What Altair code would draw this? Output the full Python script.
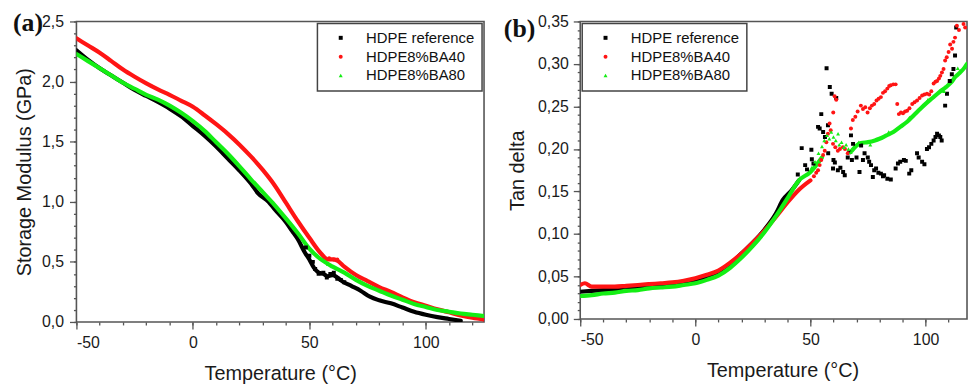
import altair as alt
import pandas as pd

SERIES = ["HDPE reference", "HDPE8%BA40", "HDPE8%BA80"]
COLORS = ["#000000", "#ff1414", "#14ee14"]
SHAPES = ["square", "circle", "triangle-up"]
TAGS = ["(a)", "(b)"]

# ---------------- panel (a): storage modulus (GPa) ----------------
a_ref_t = [-50, -45, -40, -35, -30, -25, -20, -15, -10, -5, 0, 5, 10, 15, 20, 25, 28, 32.5, 35, 40,
           42.5, 45, 48, 50, 52, 54, 56, 58, 60, 62, 64, 68, 72, 76, 80, 85, 90, 95, 100, 105, 110, 115]
a_ref_v = [2.26, 2.18, 2.11, 2.05, 1.99, 1.93, 1.88, 1.83, 1.775, 1.71, 1.63, 1.55, 1.46, 1.36, 1.26, 1.15, 1.07, 1.00, 0.94, 0.83,
           0.76, 0.69, 0.58, 0.52, 0.45, 0.41, 0.40, 0.38, 0.39, 0.37, 0.34, 0.30, 0.26, 0.21, 0.18, 0.155, 0.12, 0.085, 0.06, 0.04, 0.025, 0.01]

a_ba40_t = [-50, -45, -40, -35, -30, -25, -20, -15, -10, -5, 0, 5, 10, 15, 20, 25, 30, 35, 40, 45, 50,
            55, 58, 60, 62, 65, 70, 75, 80, 85, 90, 95, 100, 105, 110, 115, 120, 125]
a_ba40_v = [2.36, 2.30, 2.24, 2.17, 2.10, 2.04, 1.985, 1.935, 1.89, 1.84, 1.79, 1.72, 1.645, 1.565, 1.475, 1.375, 1.265, 1.14, 0.99, 0.84, 0.70,
            0.57, 0.52, 0.52, 0.51, 0.46, 0.39, 0.34, 0.29, 0.25, 0.205, 0.165, 0.135, 0.105, 0.08, 0.055, 0.035, 0.02]

a_ba80_t = [-50, -45, -40, -35, -30, -25, -20, -15, -10, -5, 0, 5, 10, 15, 20, 25, 30, 35, 40, 45, 50,
            55, 60, 65, 70, 75, 80, 85, 90, 95, 100, 105, 110, 115, 120, 125]
a_ba80_v = [2.23, 2.17, 2.11, 2.05, 1.99, 1.94, 1.89, 1.85, 1.80, 1.74, 1.67, 1.59, 1.495, 1.40, 1.295, 1.185, 1.08, 0.975, 0.86, 0.74, 0.61,
            0.52, 0.46, 0.41, 0.35, 0.30, 0.26, 0.22, 0.185, 0.15, 0.125, 0.10, 0.085, 0.07, 0.06, 0.05]

# scattered markers in panel (a)
a_pts_ref_t = [48.5, 50, 51.5, 52.5, 54, 56, 57.5, 59, 60.5, 62, 63.5, 65]
a_pts_ref_v = [0.62, 0.55, 0.50, 0.44, 0.40, 0.41, 0.37, 0.40, 0.41, 0.36, 0.35, 0.33]
a_pts_ba40_t = [58.5, 60.5, 62]
a_pts_ba40_v = [0.53, 0.52, 0.52]
a_pts_ba80_t = [58, 62]
a_pts_ba80_v = [0.48, 0.44]

# ---------------- panel (b): tan delta ----------------
b_ref_t = [-50, -45, -40, -35, -30, -25, -20, -15, -10, -5, 0, 5, 10, 15, 20, 25, 30, 35, 38, 42, 45]
b_ref_v = [0.032, 0.033, 0.034, 0.035, 0.036, 0.037, 0.038, 0.039, 0.040, 0.042, 0.045, 0.049, 0.055, 0.064,
           0.077, 0.090, 0.105, 0.124, 0.140, 0.152, 0.163]

b_ba40_t = [-50, -48, -45, -40, -35, -30, -25, -20, -15, -10, -5, 0, 5, 10, 15, 20, 25, 30, 35, 40, 45, 50]
b_ba40_v = [0.040, 0.042, 0.038, 0.038, 0.038, 0.039, 0.040, 0.041, 0.042, 0.043, 0.045, 0.048, 0.052, 0.057,
            0.066, 0.077, 0.090, 0.104, 0.120, 0.137, 0.152, 0.163]

b_ba80_t = [-50, -45, -40, -35, -30, -25, -20, -15, -10, -5, 0, 5, 10, 15, 20, 25, 30, 35, 40, 45, 50, 55]
b_ba80_v = [0.027, 0.028, 0.030, 0.031, 0.033, 0.034, 0.036, 0.037, 0.038, 0.040, 0.042, 0.046, 0.051, 0.060,
            0.072, 0.086, 0.102, 0.121, 0.142, 0.163, 0.173, 0.190]
b_ba80_hi_t = [68, 70, 72, 75, 78, 80, 83, 86, 89, 92, 95, 98, 100, 103, 106, 109, 111, 113, 115, 117, 118]
b_ba80_hi_v = [0.198, 0.204, 0.207, 0.208, 0.210, 0.212, 0.216, 0.220, 0.226, 0.232, 0.240, 0.248, 0.253,
               0.260, 0.267, 0.273, 0.278, 0.285, 0.290, 0.296, 0.300]

b_pts_ref_t = [44.5, 46.2, 47.7, 48.5, 50.4, 50.6, 51.3, 53.3, 54.0, 54.7, 55.5, 56.3, 57.0, 57.6, 57.7, 58.4,
               59.2, 59.8, 60.0, 60.6, 61.2, 61.9, 63.0, 64.2, 64.9, 66.2, 66.8, 67.6, 68.5, 68.0, 70.0, 71.3,
               72.0, 72.8, 73.5, 74.9, 75.5, 76.3, 77.1, 77.7, 78.5, 79.5, 80.6, 81.5, 82.0, 83.4, 84.9, 87.0,
               88.0, 89.0, 90.6, 91.4, 92.9, 93.8, 96.3, 97.0, 98.5, 99.5, 100.6, 101.5, 102.5, 103.5, 104.3,
               105.0, 105.8, 106.4, 107.0, 108.5, 109.3, 110.5, 111.4, 112.1, 112.8, 113.3]
b_pts_ref_v = [0.170, 0.201, 0.181, 0.176, 0.199, 0.188, 0.183, 0.226, 0.224, 0.241, 0.220, 0.214, 0.295, 0.228,
               0.195, 0.273, 0.265, 0.177, 0.187, 0.184, 0.260, 0.175, 0.178, 0.173, 0.169, 0.190, 0.196, 0.216,
               0.206, 0.187, 0.190, 0.173, 0.204, 0.187, 0.195, 0.190, 0.185, 0.181, 0.167, 0.175, 0.177, 0.172,
               0.171, 0.168, 0.169, 0.165, 0.164, 0.177, 0.183, 0.185, 0.187, 0.186, 0.171, 0.175, 0.195, 0.190,
               0.185, 0.182, 0.200, 0.202, 0.206, 0.210, 0.214, 0.218, 0.216, 0.214, 0.210, 0.251, 0.265, 0.280,
               0.288, 0.294, 0.310, 0.343]

b_pts_ba40_t = [51.5, 52.5, 53.3, 54.0, 54.7, 55.5, 56.2, 56.9, 57.6, 58.3, 58.8, 59.9, 60.5, 61.2, 59.8, 60.8,
                61.9, 62.8, 64.1, 65.0, 66.2, 67.6, 68.4, 69.5, 70.5, 71.9, 72.8, 73.8, 74.8, 75.8, 76.7, 77.7,
                78.7, 79.6, 80.6, 81.5, 82.4, 83.4, 84.2, 84.9, 86.0, 87.0, 87.7, 88.4, 89.3, 90.2, 91.1, 92.0,
                93.0, 94.2, 95.2, 96.3, 97.4, 98.5, 99.5, 100.6, 101.6, 102.5, 103.5, 104.3, 105.0, 105.8, 106.4,
                107.1, 107.8, 108.5, 109.2, 110.0, 110.7, 111.5, 112.1, 112.8, 113.6, 114.5, 116.5, 117.2]
b_pts_ba40_v = [0.168, 0.172, 0.175, 0.181, 0.187, 0.193, 0.198, 0.208, 0.218, 0.230, 0.222, 0.243, 0.262, 0.258,
                0.206, 0.202, 0.198, 0.200, 0.202, 0.200, 0.195, 0.224, 0.234, 0.238, 0.244, 0.251, 0.247, 0.249,
                0.243, 0.248, 0.251, 0.253, 0.257, 0.259, 0.261, 0.266, 0.268, 0.271, 0.274, 0.275, 0.276, 0.276,
                0.253, 0.241, 0.243, 0.242, 0.244, 0.245, 0.248, 0.253, 0.255, 0.257, 0.260, 0.263, 0.264, 0.265,
                0.264, 0.268, 0.277, 0.279, 0.280, 0.283, 0.286, 0.290, 0.294, 0.304, 0.308, 0.314, 0.323, 0.318,
                0.326, 0.331, 0.345, 0.340, 0.347, 0.343]

b_pts_ba80_t = [50.5, 52, 53.5, 55, 56, 57.2, 58.2, 59, 60, 61, 62, 62.5, 63.5, 64.5, 65.5, 66.5, 67.5,
                71, 76, 84, 93, 101, 108, 114]
b_pts_ba80_v = [0.178, 0.185, 0.195, 0.203, 0.210, 0.216, 0.212, 0.220, 0.214, 0.210, 0.218, 0.205, 0.208,
                0.202, 0.205, 0.200, 0.196, 0.208, 0.205, 0.220, 0.237, 0.258, 0.268, 0.295]

# axis ticks
A_X_TICKS = [-50, 0, 50, 100]
A_X_MINOR = [-50, -40, -30, -20, -10, 0, 10, 20, 30, 40, 50, 60, 70, 80, 90, 100, 110, 120]
A_Y_TICKS = [0.0, 0.5, 1.0, 1.5, 2.0, 2.5]
A_Y_MINOR = [round(i * 0.1, 1) for i in range(26)]
B_X_TICKS = [-50, 0, 50, 100]
B_X_MINOR = [-50, -40, -30, -20, -10, 0, 10, 20, 30, 40, 50, 60, 70, 80, 90, 100, 110]
B_Y_TICKS = [0.0, 0.05, 0.10, 0.15, 0.20, 0.25, 0.30, 0.35]
B_Y_MINOR = [round(i * 0.01, 2) for i in range(36)]


def long_frame(rows):
    recs = []
    for s, seg, ts, vs in rows:
        for t, v in zip(ts, vs):
            recs.append({"series": s, "seg": seg, "T": t, "V": v})
    return pd.DataFrame(recs)


a_lines = long_frame([
    (SERIES[0], 0, a_ref_t, a_ref_v),
    (SERIES[1], 0, a_ba40_t, a_ba40_v),
    (SERIES[2], 0, a_ba80_t, a_ba80_v),
])
a_pts = long_frame([
    (SERIES[0], 0, a_pts_ref_t, a_pts_ref_v),
    (SERIES[1], 0, a_pts_ba40_t, a_pts_ba40_v),
    (SERIES[2], 0, a_pts_ba80_t, a_pts_ba80_v),
])
b_lines = long_frame([
    (SERIES[0], 0, b_ref_t, b_ref_v),
    (SERIES[1], 0, b_ba40_t, b_ba40_v),
    (SERIES[2], 0, b_ba80_t, b_ba80_v),
    (SERIES[2], 1, b_ba80_hi_t, b_ba80_hi_v),
])
b_pts = long_frame([
    (SERIES[0], 0, b_pts_ref_t, b_pts_ref_v),
    (SERIES[1], 0, b_pts_ba40_t, b_pts_ba40_v),
    (SERIES[2], 0, b_pts_ba80_t, b_pts_ba80_v),
])

FONT = "Liberation Sans"


def panel(lines_df, pts_df, xdom, ydom, width, height, ydec, ytitle, ytitle_pad, ylabel_pad,
          xt, xm, yt, ym, legend_orient, tag, tag_dx, tag_dy, xtitle_x, pt_size):
    xs = alt.Scale(domain=xdom, nice=False, zero=False)
    ys = alt.Scale(domain=ydom, nice=False, zero=False)
    ylabel = f"replace(format(datum.value, '.{ydec}f'), '.', ',')"
    layers = []
    for i, (s, c) in enumerate(zip(SERIES, COLORS)):
        if i == 0:
            xax = alt.Axis(values=xm, labels=False, tickSize=3, domain=False, grid=False,
                           title=None, orient="bottom")
            yax = alt.Axis(values=ym, labels=False, tickSize=3, domain=False, grid=False,
                           title=None, orient="left")
        else:
            xax = None
            yax = None
        layers.append(
            alt.Chart(lines_df)
            .transform_filter(alt.datum.series == s)
            .mark_line(color=c, strokeWidth=4.2, strokeCap="round", strokeJoin="round",
                       interpolate="monotone", clip=True)
            .encode(
                x=alt.X("T:Q", scale=xs, axis=xax),
                y=alt.Y("V:Q", scale=ys, axis=yax),
                detail="seg:N",
            )
        )
    leg = alt.Legend(title=None, orient=legend_orient, offset=2,
                     labelExpr="datum.label + '  '")
    x_axis_kw = dict(values=xt, labelExpr="'' + datum.value", tickSize=7, labelPadding=6,
                     domain=False, grid=False, title="Temperature (°C)", titlePadding=13,
                     orient="bottom")
    if xtitle_x is not None:
        x_axis_kw["titleX"] = xtitle_x
    pts = (
        alt.Chart(pts_df)
        .mark_point(filled=True, size=pt_size, opacity=1, clip=True)
        .encode(
            x=alt.X("T:Q", scale=xs, axis=alt.Axis(**x_axis_kw)),
            y=alt.Y("V:Q", scale=ys,
                    axis=alt.Axis(values=yt, labelExpr=ylabel, tickSize=7, labelPadding=ylabel_pad,
                                  domain=False, grid=False, title=ytitle,
                                  titlePadding=ytitle_pad, orient="left")),
            color=alt.Color("series:N", scale=alt.Scale(domain=SERIES, range=COLORS), legend=leg),
            shape=alt.Shape("series:N", scale=alt.Scale(domain=SERIES, range=SHAPES), legend=leg),
        )
    )
    tag_layer = (
        alt.Chart(pd.DataFrame({"tag": [tag]}))
        .mark_text(font="Liberation Serif", fontSize=26, fontWeight="bold", color="#111111",
                   align="left", baseline="top")
        .encode(x=alt.value(tag_dx), y=alt.value(tag_dy), text="tag:N")
    )
    return (
        alt.layer(*layers, pts, tag_layer)
        .resolve_axis(x="independent", y="independent")
        .properties(width=width, height=height)
    )


panel_a = panel(a_lines, a_pts, [-50, 125], [0, 2.5], 411, 303, 1,
                "Storage Modulus (GPa)", 7, 6, A_X_TICKS, A_X_MINOR, A_Y_TICKS, A_Y_MINOR,
                "top-right", TAGS[0], -64, -11, None, 16)
panel_b = panel(b_lines, b_pts, [-50, 118], [0, 0.35], 390, 300, 2,
                "Tan delta", 10, 5, B_X_TICKS, B_X_MINOR, B_Y_TICKS, B_Y_MINOR,
                "top-left", TAGS[1], -77, -5, 204, 16)

chart = (
    alt.hconcat(panel_a, panel_b, spacing=18)
    .properties(padding={"left": 4, "top": 0, "right": 0, "bottom": 0})
    .configure_view(stroke="#555555", strokeWidth=1.6)
    .configure_axis(labelFont=FONT, labelFontSize=16, labelColor="#1a1a1a",
                    titleFont=FONT, titleFontSize=20, titleFontWeight="normal",
                    titleColor="#1a1a1a", tickColor="#555555", tickWidth=1.3)
    .configure_legend(labelFont=FONT, labelFontSize=15, labelColor="#111111",
                      strokeColor="#444444", strokeWidth=1.5, fillColor="white",
                      padding=7, rowPadding=3, symbolSize=16, symbolOffset=9,
                      labelOffset=18, symbolStrokeWidth=0, cornerRadius=0)
)

chart.save("out.html", embed_options={"renderer": "svg", "actions": False})
